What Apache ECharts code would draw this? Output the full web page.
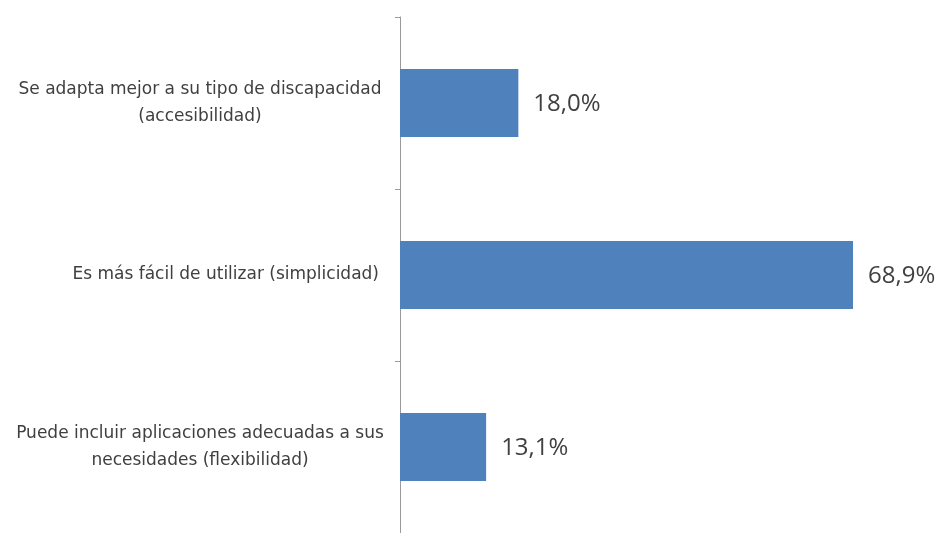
<!DOCTYPE html>
<html><head><meta charset="utf-8">
<script src="https://cdn.jsdelivr.net/npm/echarts@6/dist/echarts.min.js"></script>
<style>html,body{margin:0;padding:0;background:#fff}#c{width:939px;height:533px}</style>
</head><body><div id="c"></div>
<script>
const categories = [
  "Se adapta mejor a su tipo de discapacidad\n(accesibilidad)",
  "Es más fácil de utilizar (simplicidad)",
  "Puede incluir aplicaciones adecuadas a sus\nnecesidades (flexibilidad)"
];
const values = [18.0, 68.9, 13.1];

const chart = echarts.init(document.getElementById('c'));
const F = 'DejaVu Sans';
chart.setOption({
  animation: false,
  grid: { left: 400, top: 17, width: 526, height: 520, containLabel: false },
  xAxis: { type: 'value', min: 0, max: 80, show: false },
  yAxis: {
    type: 'category', data: categories, inverse: true,
    axisLine: { show: true, lineStyle: { color: '#9a9a9a', width: 1 } },
    axisTick: { show: true, length: 5, alignWithLabel: false, lineStyle: { color: '#9a9a9a' } },
    axisLabel: {
      margin: 14, align: 'right',
      fontFamily: F, fontSize: 17, color: '#404040', lineHeight: 27,
      formatter: function (v) {
        const lines = v.split('\n');
        if (lines.length === 1) return '{s|' + v + '}';
        return lines.map(l => '{m|' + l + '}').join('\n');
      },
      rich: {
        s: { fontFamily: F, fontSize: 17, color: '#404040', padding: [0, 7, 0, 0] },
        m: { fontFamily: F, fontSize: 17, color: '#404040', width: 372, align: 'center', lineHeight: 27 }
      }
    }
  },
  series: [{
    type: 'bar', data: values, barWidth: 68,
    itemStyle: { color: '#4f81bd' },
    label: {
      show: true, position: 'right', distance: 15, offset: [0, 1],
      fontFamily: 'Open Sans', fontSize: 24, color: '#404040',
      formatter: p => p.value.toFixed(1).replace('.', ',') + '%'
    }
  }]
});
</script></body></html>
